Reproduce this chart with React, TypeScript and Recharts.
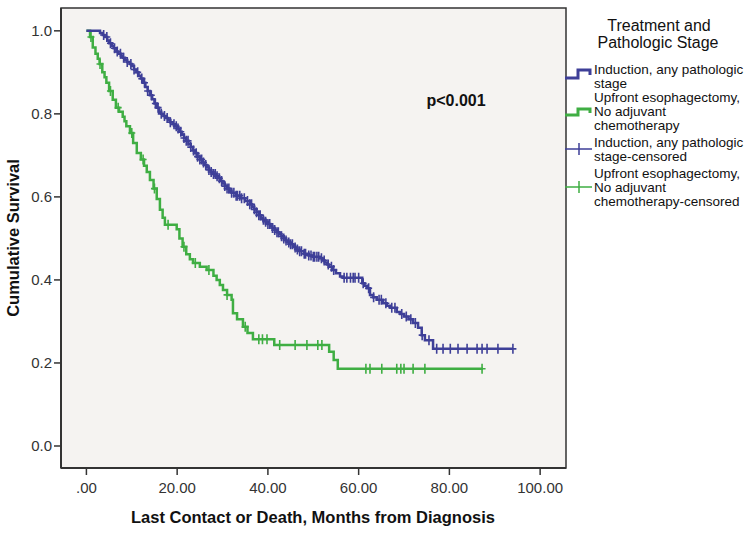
import {
  ComposedChart,
  Line,
  Scatter,
  XAxis,
  YAxis,
  CartesianGrid,
  ReferenceArea,
} from "recharts";

// Kaplan-Meier step points: [months, survival]
const inductionSteps: [number, number][] = [
  [0, 1.0], [3, 0.995], [3.6, 0.99], [4, 0.985], [4.6, 0.977], [5, 0.97],
  [5.6, 0.964], [6, 0.958], [6.6, 0.95], [7, 0.945], [7.6, 0.94], [8, 0.935],
  [8.5, 0.93], [9, 0.925], [9.6, 0.92], [10, 0.915], [10.5, 0.907], [11, 0.9],
  [11.5, 0.892], [12, 0.885], [12.5, 0.875], [13, 0.865], [13.5, 0.855], [14, 0.845],
  [14.5, 0.835], [15, 0.825], [15.5, 0.815], [16, 0.805], [16.5, 0.8], [17, 0.795],
  [17.5, 0.79], [18, 0.785], [18.5, 0.78], [19, 0.775], [19.5, 0.77], [20, 0.765],
  [20.5, 0.757], [21, 0.75], [21.5, 0.742], [22, 0.735], [22.5, 0.727], [23, 0.72],
  [23.5, 0.712], [24, 0.705], [24.5, 0.697], [25, 0.69], [25.5, 0.683], [26, 0.677],
  [26.5, 0.671], [27, 0.665], [27.5, 0.66], [28, 0.655], [28.5, 0.65], [29, 0.645],
  [29.5, 0.638], [30, 0.632], [30.5, 0.626], [31, 0.62], [31.5, 0.615], [32, 0.61],
  [33, 0.603], [34, 0.597], [35, 0.59], [36, 0.582], [36.5, 0.576], [37, 0.57],
  [37.5, 0.563], [38, 0.556], [38.5, 0.55], [39, 0.545], [39.5, 0.54], [40, 0.535],
  [40.5, 0.53], [41, 0.525], [41.5, 0.52], [42, 0.515], [42.5, 0.51], [43, 0.505],
  [43.5, 0.5], [44, 0.495], [44.5, 0.49], [45, 0.486], [45.5, 0.482], [46, 0.478],
  [46.5, 0.473], [47, 0.469], [48, 0.463], [49, 0.459], [50, 0.456],
  [51.4, 0.452], [52, 0.447], [52.5, 0.442], [53, 0.437], [53.4, 0.432],
  [54.3, 0.424], [55, 0.416], [55.9, 0.408], [56.6, 0.405], [60.8, 0.392],
  [61.3, 0.386], [61.8, 0.38], [62.5, 0.364], [63.2, 0.358], [64, 0.352],
  [65.4, 0.344], [66.2, 0.338], [67, 0.333], [68.4, 0.323], [69.2, 0.318],
  [70, 0.312], [71, 0.305], [72, 0.296], [73.1, 0.285], [73.9, 0.267],
  [74.6, 0.255], [76.4, 0.234], [94, 0.234],
];

const upfrontSteps: [number, number][] = [
  [0, 1.0], [0.8, 0.985], [1.4, 0.96], [2, 0.945], [2.5, 0.933], [2.9, 0.92],
  [3.5, 0.9], [4, 0.888], [4.4, 0.875], [5, 0.855], [5.8, 0.834], [6.5, 0.815],
  [7.2, 0.805], [8, 0.793], [8.4, 0.782], [8.8, 0.77], [9.6, 0.754], [10.3, 0.73],
  [11.1, 0.706], [12, 0.69], [12.7, 0.675], [13.3, 0.66], [14, 0.641], [14.8, 0.62],
  [15.5, 0.595], [16.2, 0.569], [16.8, 0.55], [17.3, 0.533], [19.9, 0.522],
  [20.5, 0.5], [21.2, 0.48], [22, 0.462], [22.8, 0.45], [23.5, 0.441], [25, 0.432],
  [26.5, 0.424], [28, 0.41], [28.7, 0.4], [29.4, 0.388], [30.1, 0.376], [31, 0.364],
  [32, 0.352], [32.3, 0.32], [33.2, 0.305], [34.5, 0.287], [35.5, 0.272],
  [36.7, 0.257], [41.4, 0.243], [53.5, 0.227], [54.5, 0.207], [55.4, 0.186],
  [87.4, 0.186],
];

// censored observations (months)
const inductionCensored = [
  3.8, 4.5, 5.3, 6.2, 6.8, 7.5, 8.2, 9, 9.8, 10.5, 11.3, 12.2, 12.8, 13.5, 14.3,
  15.2, 15.8, 16.5, 17.2, 17.8, 18.5, 19.3, 19.8, 20.2, 20.8, 21.5, 22, 22.4, 23,
  23.6, 24.2, 24.5, 25, 25.4, 25.8, 26.3, 27, 27.5, 28, 28.4, 28.8, 29.3, 29.8,
  30.5, 31, 31.4, 32, 32.5, 33, 33.3, 33.8, 34.2, 34.8, 35.5, 36, 36.4, 37, 37.5,
  38, 38.3, 39, 39.5, 40, 40.4, 41, 41.5, 42, 42.3, 43, 43.5, 44, 44.6, 45, 45.4,
  46, 46.5, 47, 47.4, 48, 48.3, 49, 49.5, 50, 50.3, 50.8, 51.2, 51.8, 52.4, 53.3,
  54, 54.5, 56.8, 57.4, 58.2, 58.8, 59.2, 60, 61, 62.2, 63.3, 64.5, 65, 66, 67.3,
  68, 69.5, 70.5, 71.5, 72.5, 74, 75.5, 77.2, 78.6, 80.2, 81.9, 83.9, 86.1, 87.2,
  88.3, 90.7, 94,
];

const upfrontCensored = [
  1, 3, 5.3, 7, 10, 12.5, 15, 18, 21.5, 24, 27, 31, 35, 38, 38.8, 39.8, 42.6, 46,
  48.6, 51, 51.9, 61.6, 62.5, 65.1, 68.4, 69.3, 70, 72, 74.6, 87.2,
];

const yTicks = [0, 0.2, 0.4, 0.6, 0.8, 1.0];
const xTicks = [0, 20, 40, 60, 80, 100];

const BLUE = "#3e3f98";
const GREEN = "#3fae43";
const FONT = "'Liberation Sans', Arial, sans-serif";

const toPoints = (steps: [number, number][]) => steps.map(([t, s]) => ({ t, s }));

function survivalAt(steps: [number, number][], t: number) {
  let s = steps[0][1];
  for (const [st, sv] of steps) {
    if (st <= t) s = sv;
  }
  return s;
}

const censorPoints = (times: number[], steps: [number, number][]) =>
  times.map((t) => ({ t, s: survivalAt(steps, t) }));

function CensorMark(color: string) {
  return (props: any) => {
    const { cx, cy } = props;
    if (cx == null || cy == null) return <g />;
    return (
      <path
        d={`M${cx - 3.5},${cy} H${cx + 3.5} M${cx},${cy - 5} V${cy + 5}`}
        stroke={color}
        strokeWidth={1.6}
        fill="none"
      />
    );
  };
}

export default function App() {
  return (
    <div style={{ position: "absolute", left: 0, top: 0, width: 754, height: 533, background: "#fff" }}>
      <ComposedChart
        width={754}
        height={533}
        margin={{ top: 8, right: 188, bottom: 0, left: 0 }}
      >
        <CartesianGrid fill="#f5f3f1" horizontal={false} vertical={false} />
        <XAxis
          type="number"
          dataKey="t"
          domain={[-5.6, 105.7]}
          ticks={xTicks}
          allowDataOverflow
          height={65}
          tickSize={7}
          tickMargin={7}
          tickFormatter={(v) => (v === 0 ? ".00" : Number(v).toFixed(2))}
          tick={{ fontSize: 15, fill: "#333", fontFamily: FONT }}
          axisLine={{ stroke: "#333", strokeWidth: 2 }}
          tickLine={{ stroke: "#333", strokeWidth: 1.5 }}
        />
        <YAxis
          type="number"
          dataKey="s"
          domain={[-0.053, 1.055]}
          ticks={yTicks}
          allowDataOverflow
          width={61}
          tickSize={7}
          tickMargin={2}
          tickFormatter={(v) => Number(v).toFixed(1)}
          tick={{ fontSize: 15, fill: "#333", fontFamily: FONT }}
          axisLine={{ stroke: "#333", strokeWidth: 2 }}
          tickLine={{ stroke: "#333", strokeWidth: 1.5 }}
        />
        <ReferenceArea
          x1={-5.6}
          x2={105.7}
          y1={-0.053}
          y2={1.055}
          fill="none"
          stroke="#333"
          strokeWidth={1.5}
        />
        <Line
          data={toPoints(upfrontSteps)}
          dataKey="s"
          type="stepAfter"
          stroke={GREEN}
          strokeWidth={2.5}
          dot={false}
          isAnimationActive={false}
        />
        <Line
          data={toPoints(inductionSteps)}
          dataKey="s"
          type="stepAfter"
          stroke={BLUE}
          strokeWidth={2.5}
          dot={false}
          isAnimationActive={false}
        />
        <Scatter
          data={censorPoints(upfrontCensored, upfrontSteps)}
          dataKey="s"
          shape={CensorMark(GREEN)}
          isAnimationActive={false}
        />
        <Scatter
          data={censorPoints(inductionCensored, inductionSteps)}
          dataKey="s"
          shape={CensorMark(BLUE)}
          isAnimationActive={false}
        />
      </ComposedChart>

      <svg
        width={754}
        height={533}
        style={{ position: "absolute", left: 0, top: 0, pointerEvents: "none" }}
        fontFamily={FONT}
      >
        <text x={456} y={106} fontSize={16} fontWeight="bold" textAnchor="middle" fill="#111">
          p&lt;0.001
        </text>
        <text
          x={0}
          y={0}
          transform="translate(19,238) rotate(-90)"
          fontSize={16.5}
          fontWeight="bold"
          textAnchor="middle"
          fill="#111"
        >
          Cumulative Survival
        </text>
        <text x={313} y={523} fontSize={16.5} fontWeight="bold" textAnchor="middle" fill="#111">
          Last Contact or Death, Months from Diagnosis
        </text>

        <text x={659} y={31} fontSize={16} textAnchor="middle" fill="#111">Treatment and</text>
        <text x={658} y={48} fontSize={16} textAnchor="middle" fill="#111">Pathologic Stage</text>

        <path d="M565,78 H578 V70 H590 V75" stroke={BLUE} strokeWidth={3} fill="none" />
        <path d="M565,115 H578 V109 H590 V113" stroke={GREEN} strokeWidth={3} fill="none" />
        <path d="M565,149 H592 M579,143 V155" stroke={BLUE} strokeWidth={1.5} fill="none" />
        <path d="M565,187 H592 M579,181 V193" stroke={GREEN} strokeWidth={1.5} fill="none" />

        <g fontSize={13.5} fill="#111">
          <text x={594} y={74}>Induction, any pathologic</text>
          <text x={594} y={88}>stage</text>
          <text x={594} y={102}>Upfront esophagectomy,</text>
          <text x={594} y={116}>No adjuvant</text>
          <text x={594} y={130}>chemotherapy</text>
          <text x={594} y={147}>Induction, any pathologic</text>
          <text x={594} y={161}>stage-censored</text>
          <text x={594} y={178}>Upfront esophagectomy,</text>
          <text x={594} y={192}>No adjuvant</text>
          <text x={594} y={206}>chemotherapy-censored</text>
        </g>
      </svg>
    </div>
  );
}
